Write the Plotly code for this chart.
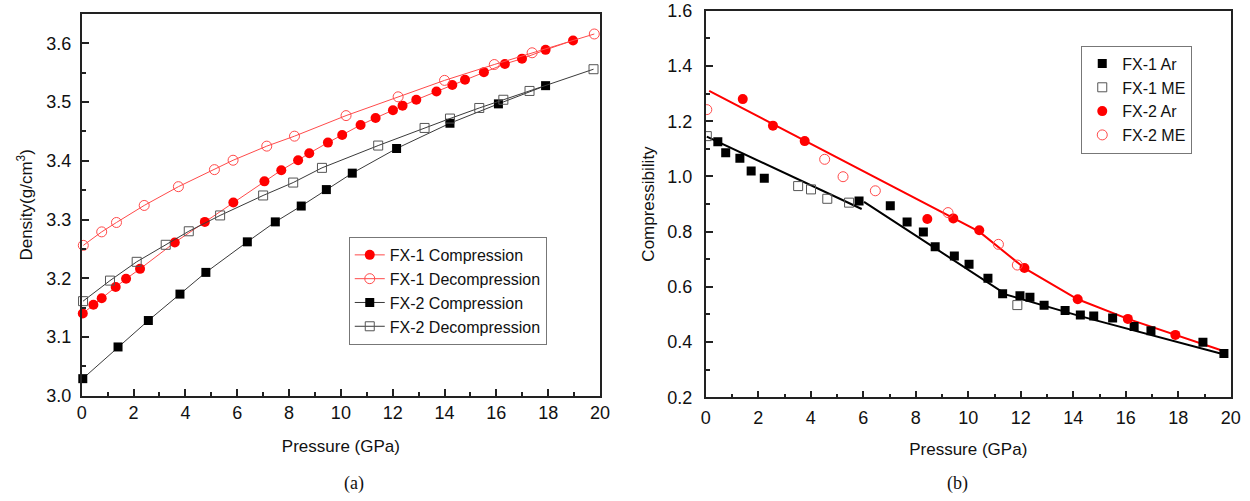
import plotly.graph_objects as go

# ---------------------------------------------------------------------------
# (a) Density vs pressure
# ---------------------------------------------------------------------------
fx1_comp_p = [0.04, 0.45, 0.77, 1.31, 1.71, 2.25, 3.59, 4.75, 5.85, 7.05, 7.70, 8.35,
              8.78, 9.50, 10.05, 10.76, 11.34, 12.01, 12.38, 12.91, 13.69, 14.30,
              14.79, 15.52, 16.33, 16.99, 17.90, 18.96]
fx1_comp_d = [3.140, 3.155, 3.166, 3.185, 3.199, 3.216, 3.261, 3.296, 3.329, 3.365,
              3.384, 3.401, 3.413, 3.431, 3.444, 3.461, 3.473, 3.486, 3.494, 3.504,
              3.518, 3.529, 3.538, 3.551, 3.565, 3.574, 3.589, 3.605]

fx1_decomp_p = [0.06, 0.77, 1.34, 2.41, 3.73, 5.12, 5.84, 7.14, 8.21, 10.20, 12.21,
                14.00, 15.92, 17.38, 19.78]
fx1_decomp_d = [3.256, 3.279, 3.295, 3.324, 3.356, 3.385, 3.401, 3.425, 3.442, 3.477,
                3.509, 3.537, 3.564, 3.584, 3.616]

fx2_comp_p = [0.04, 1.40, 2.57, 3.79, 4.79, 6.39, 7.47, 8.47, 9.44, 10.44, 12.15,
              14.21, 16.08, 17.90]
fx2_comp_d = [3.029, 3.083, 3.128, 3.173, 3.210, 3.262, 3.296, 3.323, 3.351, 3.379,
              3.421, 3.464, 3.497, 3.528]

fx2_decomp_p = [0.05, 1.09, 2.12, 3.24, 4.13, 5.34, 7.00, 8.16, 9.27, 11.44, 13.23,
                14.21, 15.34, 16.27, 17.28, 19.75]
fx2_decomp_d = [3.161, 3.196, 3.228, 3.257, 3.280, 3.307, 3.341, 3.363, 3.388, 3.426,
                3.456, 3.472, 3.490, 3.504, 3.519, 3.556]

# ---------------------------------------------------------------------------
# (b) Compressibility vs pressure
# ---------------------------------------------------------------------------
fx1_ar_p = [0.46, 0.76, 1.30, 1.73, 2.23, 5.84, 7.03, 7.67, 8.29, 8.74, 9.47, 10.03,
            10.75, 11.31, 11.97, 12.35, 12.89, 13.69, 14.27, 14.78, 15.50, 16.32,
            16.96, 18.94, 19.74]
fx1_ar_k = [1.126, 1.086, 1.066, 1.020, 0.993, 0.911, 0.894, 0.835, 0.799, 0.745,
            0.712, 0.682, 0.631, 0.575, 0.568, 0.562, 0.533, 0.514, 0.498, 0.494,
            0.487, 0.456, 0.441, 0.399, 0.359]

fx1_me_p = [0.04, 3.52, 4.01, 4.63, 5.46, 11.87]
fx1_me_k = [1.146, 0.965, 0.953, 0.919, 0.905, 0.534]

fx2_ar_p = [1.41, 2.56, 3.77, 8.44, 9.43, 10.42, 12.14, 14.17, 16.08, 17.89]
fx2_ar_k = [1.280, 1.184, 1.128, 0.846, 0.848, 0.805, 0.668, 0.555, 0.484, 0.426]

fx2_me_p = [0.04, 4.53, 5.23, 6.46, 9.23, 11.15, 11.87]
fx2_me_k = [1.242, 1.062, 0.999, 0.948, 0.869, 0.754, 0.679]

# guide lines drawn through the data
fx1_fit1_p = [0.04, 5.94]
fx1_fit1_k = [1.144, 0.882]
fx1_fit2_p = [6.03, 11.45, 14.26, 19.72]
fx1_fit2_k = [0.908, 0.572, 0.494, 0.356]
fx2_fit_p = [0.13, 9.43, 10.42, 12.14, 14.17, 16.08, 17.89, 19.75]
fx2_fit_k = [1.310, 0.848, 0.800, 0.668, 0.555, 0.484, 0.426, 0.367]

FONT = 'Liberation Sans, Arial, sans-serif'
SERIF = 'Liberation Serif, Times New Roman, serif'
RED = '#ff0000'
PINK = '#ff4a4a'
DARK = '#3a3a3a'
GREY = '#555555'

fig = go.Figure()

# --- panel (a) ---
fig.add_trace(go.Scatter(
    x=fx1_comp_p, y=fx1_comp_d, name='FX-1 Compression', mode='lines+markers',
    line=dict(color=PINK, width=1), marker=dict(symbol='circle', size=10, color=RED),
    xaxis='x', yaxis='y', legend='legend', cliponaxis=False,
))
fig.add_trace(go.Scatter(
    x=fx1_decomp_p, y=fx1_decomp_d, name='FX-1 Decompression', mode='lines+markers',
    line=dict(color=PINK, width=1),
    marker=dict(symbol='circle-open', size=10, color=PINK, line=dict(width=1)),
    xaxis='x', yaxis='y', legend='legend', cliponaxis=False,
))
fig.add_trace(go.Scatter(
    x=fx2_comp_p, y=fx2_comp_d, name='FX-2 Compression', mode='lines+markers',
    line=dict(color=DARK, width=1), marker=dict(symbol='square', size=9, color='black'),
    xaxis='x', yaxis='y', legend='legend', cliponaxis=False,
))
fig.add_trace(go.Scatter(
    x=fx2_decomp_p, y=fx2_decomp_d, name='FX-2 Decompression', mode='lines+markers',
    line=dict(color=DARK, width=1),
    marker=dict(symbol='square-open', size=9, color=GREY, line=dict(width=1)),
    xaxis='x', yaxis='y', legend='legend', cliponaxis=False,
))

# --- panel (b) ---
for px_, ky_, col in [(fx1_fit1_p, fx1_fit1_k, 'black'),
                      (fx1_fit2_p, fx1_fit2_k, 'black'),
                      (fx2_fit_p, fx2_fit_k, RED)]:
    fig.add_trace(go.Scatter(
        x=px_, y=ky_, mode='lines', line=dict(color=col, width=2),
        xaxis='x2', yaxis='y2', showlegend=False, hoverinfo='skip',
    ))

fig.add_trace(go.Scatter(
    x=fx1_ar_p, y=fx1_ar_k, name='FX-1 Ar', mode='markers',
    marker=dict(symbol='square', size=9, color='black'),
    xaxis='x2', yaxis='y2', legend='legend2',
))
fig.add_trace(go.Scatter(
    x=fx1_me_p, y=fx1_me_k, name='FX-1 ME', mode='markers',
    marker=dict(symbol='square-open', size=9, color=GREY, line=dict(width=1)),
    xaxis='x2', yaxis='y2', legend='legend2',
))
fig.add_trace(go.Scatter(
    x=fx2_ar_p, y=fx2_ar_k, name='FX-2 Ar', mode='markers',
    marker=dict(symbol='circle', size=10, color=RED),
    xaxis='x2', yaxis='y2', legend='legend2',
))
fig.add_trace(go.Scatter(
    x=fx2_me_p, y=fx2_me_k, name='FX-2 ME', mode='markers',
    marker=dict(symbol='circle-open', size=10, color=PINK, line=dict(width=1)),
    xaxis='x2', yaxis='y2', legend='legend2',
))

axis_style = dict(
    showline=True, linecolor='#222', linewidth=1.5, mirror=True,
    ticks='inside', ticklen=7, tickwidth=1.5, tickcolor='#222',
    showgrid=False, zeroline=False, automargin=False, ticklabeloverflow='allow',
    tickfont=dict(family=FONT, size=18, color='#111'),
    title_font=dict(family=FONT, size=17, color='#111'),
)
minor_style = dict(ticks='inside', ticklen=4, tickwidth=1.5, tickcolor='#222', showgrid=False)

fig.update_layout(
    width=1250, height=501,
    margin=dict(l=0, r=0, t=0, b=0, autoexpand=False),
    paper_bgcolor='white', plot_bgcolor='white',
    font=dict(family=FONT, size=17, color='#111'),
    xaxis=dict(axis_style, domain=[0.0654, 0.48], range=[0, 20], dtick=2,
               minor=dict(minor_style, dtick=1),
               title=dict(text='Pressure (GPa)', standoff=18)),
    yaxis=dict(axis_style, domain=[0.2102, 0.972], range=[3.0, 3.65], dtick=0.1,
               tickformat='.1f', minor=dict(minor_style, dtick=0.05),
               ticklabelstandoff=5,
               title=dict(text='Density(g/cm<sup>3</sup>)', standoff=9)),
    xaxis2=dict(axis_style, domain=[0.5646, 0.9846], range=[0, 20], dtick=2,
                anchor='y2', minor=dict(minor_style, dtick=1), ticklabelstandoff=3,
                title=dict(text='Pressure (GPa)', standoff=16)),
    yaxis2=dict(axis_style, domain=[0.207, 0.9786], range=[0.2, 1.6002], dtick=0.2,
                anchor='x2', tickformat='.1f', minor=dict(minor_style, dtick=0.1),
                ticklabelstandoff=8,
                title=dict(text='Compressibility', standoff=8)),
    legend=dict(x=0.279, y=0.527, xanchor='left', yanchor='top',
                bordercolor='#777', borderwidth=1, bgcolor='white',
                font=dict(family=FONT, size=16), tracegroupgap=0),
    legend2=dict(x=0.865, y=0.909, xanchor='left', yanchor='top',
                 bordercolor='#777', borderwidth=1, bgcolor='white',
                 font=dict(family=FONT, size=16), tracegroupgap=0),
    annotations=[
        dict(text='(a)', x=0.2736, y=0.034, xref='paper', yref='paper', yanchor='middle',
             showarrow=False, font=dict(family=SERIF, size=18)),
        dict(text='(b)', x=0.776, y=0.034, xref='paper', yref='paper', yanchor='middle',
             showarrow=False, font=dict(family=SERIF, size=18)),
    ],
)

# drop the browser's default 8px body margin so the figure fills the window
fig.write_html('out.html', config={'displayModeBar': False},
               post_script="document.body.style.margin = '0px';")
